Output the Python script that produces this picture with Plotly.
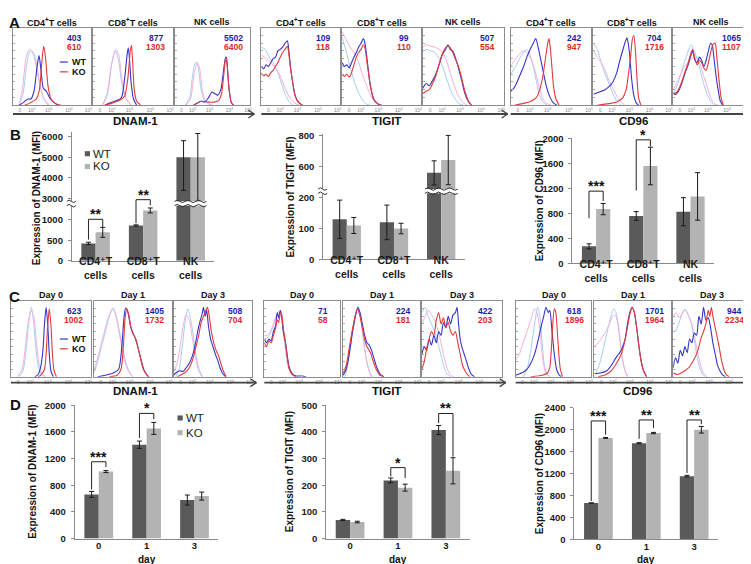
import plotly.graph_objects as go

W, H = 751, 564
FONT = "Arial, 'Liberation Sans', 'DejaVu Sans', sans-serif"

# ---------------- bar chart data ----------------
CELL_TYPES = ["CD4⁺T<br>cells", "CD8⁺T<br>cells", "NK<br>cells"]
DAYS = ["0", "1", "3"]

B_DNAM1_WT = [421, 857, 5000]
B_DNAM1_WT_ERR = [30, 15, 800]
B_DNAM1_WT_ERR_MINUS = [30, 15, 1600]
B_DNAM1_KO = [690, 1222, 5000]
B_DNAM1_KO_ERR = [120, 60, 1150]
B_DNAM1_KO_ERR_MINUS = [120, 60, 2130]

B_TIGIT_WT = [130, 120, 560]
B_TIGIT_WT_ERR = [62, 56, 78]
B_TIGIT_KO = [110, 100, 643]
B_TIGIT_KO_ERR = [26, 17, 160]

B_CD96_WT = [272, 757, 825]
B_CD96_WT_ERR = [40, 70, 225]
B_CD96_KO = [867, 1556, 1070]
B_CD96_KO_ERR = [90, 300, 380]

D_DNAM1_WT = [662, 1407, 578]
D_DNAM1_WT_ERR = [45, 55, 75]
D_DNAM1_KO = [1005, 1652, 637]
D_DNAM1_KO_ERR = [15, 90, 60]

D_TIGIT_WT = [70, 218, 407]
D_TIGIT_WT_ERR = [2, 9, 17]
D_TIGIT_KO = [62, 191, 254]
D_TIGIT_KO_ERR = [3, 13, 49]

D_CD96_WT = [663, 1755, 1152]
D_CD96_WT_ERR = [0, 10, 15]
D_CD96_KO = [1851, 1940, 2000]
D_CD96_KO_ERR = [8, 12, 60]

# significance brackets: (group, bracket level, left foot, right foot, label)
B_DNAM1_SIG = [(0, 1008, 516, 817, "**"), (1, 1484, 913, 1349, "**")]
B_CD96_SIG = [(0, 1154, 720, 997, "***"), (1, 1974, 1164, 1870, "*")]
D_DNAM1_SIG = [(0, 1152, 735, 1069, "***"), (1, 1877, 1510, 1789, "*")]
D_TIGIT_SIG = [(1, 266, 233, 227, "*"), (2, 469, 433, 307, "**")]
D_CD96_SIG = [(0, 2161, 698, 1910, "***"), (1, 2179, 1833, 2030, "**"), (2, 2179, 1206, 2101, "**")]

# ---------------- histogram data (x: % of display width, y: % of max) ----------------
HIST_TICK_TEXT = ["0", "10<sup>2</sup>", "10<sup>3</sup>", "10<sup>4</sup>", "10<sup>5</sup>"]
HIST_TICK_POS = [9, 24, 46, 72, 97]
A_TITLES = ["CD4<sup>+</sup>T cells", "CD8<sup>+</sup>T cells", "NK cells"]
C_TITLES = ["Day 0", "Day 1", "Day 3"]

A_DNAM1_ISO1 = [
    [(8,0),(13,15),(18,55),(22,70),(26,66),(30,50),(35,25),(40,8),(47,0)],
    [(12,0),(18,15),(23,50),(28,70),(32,60),(36,30),(41,10),(48,0)],
    [(14,0),(20,10),(24,40),(28,56),(31,50),(35,20),(40,5),(48,0)]]
A_DNAM1_ISO2 = [
    [(8,0),(12,20),(17,62),(21,72),(25,70),(29,60),(33,35),(38,12),(45,0)],
    [(12,0),(18,12),(24,55),(29,72),(33,62),(37,30),(42,8),(48,0)],
    [(15,0),(21,8),(26,42),(30,55),(33,48),(37,18),(42,4),(50,0)]]
A_DNAM1_WT = [
    [(8,0),(14,4),(19,8),(23,8),(27,18),(31,50),(33.5,64),(36,45),(39,22),(43,18),(47,10),(52,4),(58,0)],
    [(15,0),(22,3),(30,6),(36,10),(40,35),(43,65),(44.5,74),(46,60),(48,30),(51,8),(55,0)],
    [(25,0),(31,3),(35,5),(40,4),(45,10),(49.5,17),(53,15),(57,13),(61,20),(64,40),(67,60),(68.5,62),(70,45),(72,20),(75,3),(78,0)]]
A_DNAM1_KO = [
    [(15,0),(22,3),(30,8),(34,20),(37,55),(39.5,76),(42,60),(45,25),(49,8),(55,2),(62,0)],
    [(15,0),(25,3),(35,7),(40,12),(44,35),(47,70),(48.5,77),(50,55),(52,20),(55,5),(60,0)],
    [(25,0),(35,5),(45,4),(52,4),(58,6),(62,15),(65,40),(67.5,62),(69.5,50),(72,20),(75,3),(78,0)]]
A_DNAM1_MFI_WT = [403, 877, 5502]
A_DNAM1_MFI_KO = [610, 1303, 6400]

A_TIGIT_ISO1 = [
    [(0,75),(5,72),(10,62),(15,55),(20,45),(25,30),(30,15),(35,5),(40,0)],
    [(0,88),(5,70),(10,50),(15,32),(20,18),(25,8),(30,2),(35,0)],
    [(0,70),(5,72),(10,70),(15,68),(20,60),(25,48),(30,32),(35,18),(40,8),(45,2),(50,0)]]
A_TIGIT_ISO2 = [
    [(0,65),(6,60),(12,55),(18,48),(24,38),(30,22),(36,10),(42,3),(48,0)],
    [(0,95),(5,85),(10,75),(15,68),(20,58),(25,42),(30,28),(35,15),(40,6),(45,1),(50,0)],
    [(0,75),(5,78),(10,76),(15,75),(20,72),(25,68),(30,55),(35,38),(40,22),(45,10),(50,3),(55,0)]]
A_TIGIT_WT = [
    [(0,50),(3,47),(6,52),(9,50),(12,55),(15,60),(18,62),(21,70),(24,72),(27,75),(30,80),(33,83),(35,70),(37,50),(40,28),(43,12),(47,4),(52,0)],
    [(0,55),(3,50),(6,52),(9,48),(12,55),(15,62),(18,68),(21,75),(24,80),(27,86),(29,80),(31,65),(33,48),(36,25),(40,8),(45,2),(50,0)],
    [(0,22),(4,28),(8,25),(12,32),(16,40),(20,52),(24,65),(28,72),(31,78),(34,72),(37,70),(40,62),(44,48),(48,32),(52,15),(56,5),(60,0)]]
A_TIGIT_KO = [
    [(0,42),(3,38),(6,40),(9,37),(12,42),(15,45),(18,50),(21,55),(24,62),(27,68),(30,72),(33,76),(35,65),(37,48),(40,28),(43,12),(47,4),(52,0)],
    [(0,40),(3,37),(6,40),(9,36),(12,42),(15,52),(18,62),(21,68),(24,72),(27,78),(29,74),(31,60),(33,45),(36,24),(40,8),(45,2),(50,0)],
    [(0,15),(4,18),(8,20),(12,28),(16,38),(20,52),(24,66),(28,74),(31,76),(34,74),(37,68),(40,60),(44,50),(48,35),(52,18),(56,6),(60,0)]]
A_TIGIT_MFI_WT = [109, 99, 507]
A_TIGIT_MFI_KO = [118, 110, 554]

A_CD96_ISO1 = [
    [(0,40),(6,50),(12,62),(17,70),(20,72),(24,65),(28,50),(32,30),(36,12),(40,4),(45,0)],
    [(0,80),(5,72),(10,55),(15,40),(20,28),(25,15),(30,6),(35,0)],
    [(0,15),(5,25),(10,40),(15,55),(20,70),(24,78),(28,70),(32,60),(36,45),(40,30),(45,15),(50,5),(55,0)]]
A_CD96_ISO2 = [
    [(0,50),(5,58),(10,65),(15,70),(20,68),(25,60),(30,45),(35,25),(40,8),(45,2),(50,0)],
    [(0,70),(5,62),(10,55),(15,45),(20,32),(25,22),(30,12),(35,5),(40,0)],
    [(0,20),(5,30),(10,40),(15,50),(20,55),(25,60),(30,62),(35,55),(40,40),(45,25),(50,10),(55,2),(60,0)]]
A_CD96_WT = [
    [(0,18),(4,22),(8,30),(12,40),(16,50),(20,62),(24,72),(28,80),(31,86),(34,75),(37,60),(40,45),(44,25),(48,12),(52,4),(57,0)],
    [(0,14),(5,16),(10,18),(15,20),(20,24),(25,30),(30,42),(34,58),(38,72),(41,82),(43,87),(45,78),(47,60),(49,35),(52,12),(55,3),(58,0)],
    [(0,15),(4,14),(8,20),(12,30),(16,42),(20,52),(23,62),(26,70),(29,58),(32,55),(35,62),(38,58),(41,50),(44,58),(47,70),(50,80),(52,78),(54,65),(57,40),(60,20),(63,5),(66,0)]]
A_CD96_KO = [
    [(5,0),(15,2),(25,5),(32,10),(36,20),(40,38),(43,60),(46,80),(47.5,86),(49,75),(51,50),(53,25),(56,8),(60,0)],
    [(5,0),(20,2),(30,4),(38,10),(42,20),(45,40),(48,65),(50,85),(52,90),(54,70),(56,35),(58,10),(61,0)],
    [(0,15),(4,16),(8,22),(12,32),(16,44),(20,55),(23,65),(26,72),(29,60),(32,52),(35,58),(38,55),(41,48),(44,45),(47,55),(50,68),(53,78),(56,80),(58,65),(61,35),(64,10),(67,0)]]
A_CD96_MFI_WT = [242, 704, 1065]
A_CD96_MFI_KO = [947, 1716, 1107]

C_DNAM1_ISO1 = [
    [(10,0),(15,8),(19,35),(22,70),(25.5,92),(28,75),(31,40),(34,15),(38,3),(42,0)],
    [(0,5),(5,20),(10,40),(15,60),(20,80),(25,91),(29,80),(33,60),(37,40),(41,20),(45,8),(50,0)],
    [(3,0),(7,10),(11,40),(15,75),(18,90),(21,80),(25,55),(29,25),(33,8),(37,0)]]
C_DNAM1_ISO2 = [
    [(8,0),(14,10),(18,40),(22,75),(25,88),(28.5,80),(32,45),(35,18),(39,4),(44,0)],
    [(0,8),(5,25),(10,45),(15,65),(20,82),(24,90),(28,82),(32,62),(36,40),(40,20),(44,8),(50,0)],
    [(0,5),(5,20),(9,45),(13,72),(16,82),(20,75),(24,50),(28,25),(32,8),(36,0)]]
C_DNAM1_WT = [
    [(30,0),(34,3),(37,12),(40,35),(42,70),(44,92),(46,70),(48,30),(50,8),(53,0)],
    [(5,0),(15,2),(25,5),(32,10),(36,40),(39,80),(41,91),(44,85),(47,68),(50,58),(53,52),(56,42),(59,30),(62,18),(65,8),(70,0)],
    [(0,2),(4,6),(8,8),(12,7),(16,12),(20,18),(24,28),(28,45),(31,62),(34,75),(36,82),(38,92),(40,80),(42,88),(44,70),(47,50),(50,40),(53,30),(56,22),(59,12),(62,5),(66,0)]]
C_DNAM1_KO = [
    [(34,0),(38,3),(42,10),(44,30),(46,68),(48,90),(50,70),(52,30),(54,8),(57,0)],
    [(20,0),(30,2),(35,10),(38,40),(40.5,80),(42.5,90),(45,82),(48,65),(51,56),(54,50),(57,38),(60,25),(63,12),(67,4),(71,0)],
    [(5,0),(10,3),(15,6),(20,12),(24,22),(28,38),(32,55),(35,72),(38,80),(40,85),(43,92),(45,82),(48,60),(51,45),(54,35),(57,28),(60,18),(63,8),(67,0)]]
C_DNAM1_MFI_WT = [623, 1405, 508]
C_DNAM1_MFI_KO = [1002, 1732, 704]

C_TIGIT_ISO1 = [
    [(0,50),(4,52),(8,58),(12,68),(16,82),(19,86),(22,80),(25,60),(28,35),(31,15),(35,5),(40,0)],
    [(2,0),(5,10),(9,35),(13,62),(17,85),(20,92),(23,80),(26,55),(30,25),(34,8),(38,0)],
    [(0,85),(4,92),(8,80),(12,70),(16,60),(20,45),(24,28),(28,12),(32,3),(36,0)]]
C_TIGIT_ISO2 = [
    [(0,55),(4,55),(8,60),(12,70),(16,80),(19,85),(22,80),(25,62),(28,38),(31,18),(35,5),(40,0)],
    [(0,2),(4,12),(8,35),(12,60),(16,82),(19,90),(22,82),(25,60),(29,30),(33,10),(37,0)],
    [(0,70),(4,80),(8,88),(12,82),(16,75),(20,62),(24,45),(28,25),(32,10),(36,2),(40,0)]]
C_TIGIT_WT = [
    [(0,50),(3,45),(6,50),(9,48),(12,60),(15,68),(17,85),(19,78),(21,88),(23,80),(25,60),(28,45),(30,30),(33,12),(37,4),(42,1),(50,1),(55,0)],
    [(0,2),(4,10),(8,30),(12,58),(16,80),(19,92),(22,85),(25,70),(28,55),(31,45),(34,42),(37,35),(40,25),(44,12),(48,4),(53,0)],
    [(0,30),(3,40),(6,35),(9,50),(12,42),(15,55),(18,45),(21,60),(24,55),(27,72),(30,65),(33,80),(36,70),(39,82),(42,85),(44,92),(46,70),(48,50),(50,40),(53,30),(56,20),(59,10),(62,3),(66,0)]]
C_TIGIT_KO = [
    [(0,45),(3,40),(6,48),(9,45),(12,55),(15,65),(17,75),(19,72),(21,85),(23,82),(25,65),(28,45),(30,28),(33,10),(37,3),(42,0)],
    [(0,5),(4,15),(8,38),(12,62),(16,82),(19,90),(22,80),(25,65),(28,50),(31,40),(34,35),(37,28),(40,18),(44,8),(48,2),(53,0)],
    [(0,10),(3,20),(6,38),(9,50),(12,60),(15,55),(18,75),(21,85),(24,70),(27,78),(30,65),(33,72),(36,60),(39,55),(42,60),(45,45),(48,30),(51,15),(54,8),(57,3),(60,0)]]
C_TIGIT_MFI_WT = [71, 224, 422]
C_TIGIT_MFI_KO = [58, 181, 203]

C_CD96_ISO1 = [
    [(10,0),(15,10),(20,35),(25,70),(29,92),(32,80),(35,45),(38,15),(42,3),(46,0)],
    [(2,5),(6,15),(10,30),(14,48),(18,65),(22,82),(25,90),(28,85),(31,70),(34,45),(37,22),(40,8),(44,0)],
    [(3,60),(7,70),(11,82),(15,90),(18,85),(22,75),(26,55),(30,30),(34,12),(38,3),(42,0)]]
C_CD96_ISO2 = [
    [(0,22),(5,30),(10,45),(15,60),(20,75),(25,90),(28,85),(31,70),(34,40),(37,15),(40,5),(44,0)],
    [(0,40),(5,45),(10,52),(15,60),(20,72),(24,80),(27,82),(30,72),(33,50),(36,25),(39,10),(43,0)],
    [(0,80),(4,85),(8,78),(12,85),(16,88),(20,80),(24,70),(28,50),(32,30),(36,12),(40,3),(44,0)]]
C_CD96_WT = [
    [(0,2),(5,4),(10,6),(15,10),(20,18),(25,30),(30,50),(34,68),(37,80),(40,92),(43,85),(45,88),(48,60),(51,30),(54,10),(57,3),(60,0)],
    [(0,4),(8,5),(16,8),(22,15),(26,22),(30,28),(33,32),(36,38),(40,50),(43,70),(46,85),(49,92),(52,85),(55,65),(58,40),(61,20),(64,8),(68,0)],
    [(0,12),(3,25),(6,18),(9,35),(12,28),(15,40),(18,32),(21,50),(24,45),(27,58),(30,55),(33,80),(36,70),(39,92),(42,75),(45,78),(48,65),(51,45),(54,30),(57,15),(60,8),(63,3),(67,0)]]
C_CD96_KO = [
    [(20,0),(35,2),(42,5),(45,12),(47,35),(49,70),(51,90),(53,85),(55,60),(57,30),(59,10),(62,0)],
    [(5,0),(15,3),(22,8),(27,15),(31,22),(35,30),(39,45),(43,65),(46,82),(49,92),(52,85),(55,65),(58,40),(61,20),(64,8),(68,0)],
    [(0,5),(5,3),(10,5),(15,8),(20,12),(25,20),(30,30),(33,40),(36,52),(39,60),(42,70),(45,88),(47,80),(49,92),(51,80),(53,70),(56,55),(59,40),(62,22),(65,10),(68,3),(72,0)]]
C_CD96_MFI_WT = [618, 1701, 944]
C_CD96_MFI_KO = [1896, 1964, 2234]

# ---------------- styling ----------------
WT_BAR = "#5a5a5a"
KO_BAR = "#b3b3b3"
WT_LINE = "#3535c8"
KO_LINE = "#e53a3a"
ISO_BLUE = "#a6cdf0"
ISO_PINK = "#f2b0d6"
MFI_BLUE = "#1c1ca8"
MFI_RED = "#e02828"
BOX = "#8c8c8c"
AXC = "#8a8a8a"

fig = go.Figure()
AX = {}
ANN = []
SHP = []
_n = [0]


def X(px):
    return px / W


def Y(py):
    return 1 - py / H


def make_xy(x0, x1, ytop, ybot, xcfg, ycfg):
    _n[0] += 1
    s = "" if _n[0] == 1 else str(_n[0])
    AX["xaxis" + s] = dict(domain=[X(x0), X(x1)], anchor="y" + s, **xcfg)
    AX["yaxis" + s] = dict(domain=[Y(ybot), Y(ytop)], anchor="x" + s, **ycfg)
    return "x" + s, "y" + s


def make_y(xname, ytop, ybot, ycfg):
    _n[0] += 1
    s = str(_n[0])
    AX["yaxis" + s] = dict(domain=[Y(ybot), Y(ytop)], anchor=xname, **ycfg)
    return "y" + s


def ann(x, y, text, size, color="#111", bold=True, xanchor="center", yanchor="middle", angle=0):
    ANN.append(dict(x=X(x), y=Y(y), xref="paper", yref="paper", text=text, showarrow=False,
                    xanchor=xanchor, yanchor=yanchor, textangle=angle,
                    font=dict(family=FONT, size=size, color=color, weight="bold" if bold else "normal")))


def pline(x0, y0, x1, y1, color="#333", width=1):
    SHP.append(dict(type="line", xref="paper", yref="paper", x0=X(x0), y0=Y(y0), x1=X(x1), y1=Y(y1),
                    line=dict(color=color, width=width)))


def prect(x0, y0, x1, y1, color):
    SHP.append(dict(type="rect", xref="paper", yref="paper", x0=X(x0), y0=Y(y0), x1=X(x1), y1=Y(y1),
                    line=dict(width=0), fillcolor=color))


def wave(x0, x1, y, amp=1.3, n=6, color="#333", width=1):
    d = (x1 - x0) / n
    p = f"M {X(x0)},{Y(y)} Q {X(x0 + d / 2)},{Y(y - 2 * amp)} {X(x0 + d)},{Y(y)}"
    for k in range(2, n + 1):
        p += f" T {X(x0 + k * d)},{Y(y)}"
    SHP.append(dict(type="path", xref="paper", yref="paper", path=p, line=dict(color=color, width=width)))


def break_mark(x0, x1, y, n):
    prect(x0, y - 2.2, x1, y + 2.2, "white")
    wave(x0, x1, y - 2.2, n=n)
    wave(x0, x1, y + 2.2, n=n)


# ---------------- histograms ----------------
def hist_panel(x0, x1, ytop, ybot, curves, mfi_wt, mfi_ko, title):
    xa, ya = make_xy(
        x0, x1, ytop, ybot,
        dict(range=[0, 100], showline=True, mirror=True, linecolor=BOX, linewidth=1, showgrid=False,
             zeroline=False, tickvals=HIST_TICK_POS, ticktext=HIST_TICK_TEXT, ticks="",
             tickfont=dict(family=FONT, size=5, color="#888"), fixedrange=True),
        dict(range=[0, 100], showline=True, mirror=True, linecolor=BOX, linewidth=1, showgrid=False,
             zeroline=False, showticklabels=False, ticks="inside", ticklen=2, tickcolor="#aaa",
             tickvals=[10, 20, 30, 40, 50, 60, 70, 80, 90], fixedrange=True))
    for pts, col, w in zip(curves, [ISO_BLUE, ISO_PINK, WT_LINE, KO_LINE], [1, 1, 1.1, 1.1]):
        fig.add_trace(go.Scatter(x=[p[0] for p in pts], y=[p[1] for p in pts], mode="lines",
                                 line=dict(color=col, width=w, shape="spline", smoothing=0.7),
                                 xaxis=xa, yaxis=ya, hoverinfo="skip", showlegend=False))
    ann((x0 + x1) / 2, ytop - 6, title, 9)
    ann(x1 - 17, ytop + 10, str(mfi_wt), 8.5, MFI_BLUE)
    ann(x1 - 17, ytop + 19.5, str(mfi_ko), 8.5, MFI_RED)


def hist_row(boxes, ytop, ybot, data_groups, titles, arrow_y, label_y, labels):
    for g, (grp_boxes, dg) in enumerate(zip(boxes, data_groups)):
        iso1, iso2, wt, ko, mwt, mko = dg
        for i, (bx0, bx1) in enumerate(grp_boxes):
            hist_panel(bx0, bx1, ytop, ybot, [iso1[i], iso2[i], wt[i], ko[i]], mwt[i], mko[i], titles[i])
        ax0 = grp_boxes[0][0]
        ax1 = grp_boxes[2][1] + 4
        pline(ax0, arrow_y, ax1, arrow_y, "#444", 1.8)
        pline(ax1 - 6, arrow_y - 4, ax1, arrow_y, "#444", 1.3)
        pline(ax1 - 6, arrow_y + 4, ax1, arrow_y, "#444", 1.3)
        ann((ax0 + ax1) / 2 + 2, label_y, labels[g], 11.5)


ROW_A_BOXES = [[(5, 83), (85, 165), (167, 243)], [(254, 333), (335, 414), (416, 497)],
               [(504, 585), (587, 665), (667, 742)]]
ROW_C_BOXES = [[(3, 83), (86, 164), (166, 245)], [(257, 333), (336, 413), (415, 495)],
               [(509, 585), (588, 665), (667, 745)]]
MARKERS = ["DNAM-1", "TIGIT", "CD96"]

hist_row(ROW_A_BOXES, 14, 93,
         [(A_DNAM1_ISO1, A_DNAM1_ISO2, A_DNAM1_WT, A_DNAM1_KO, A_DNAM1_MFI_WT, A_DNAM1_MFI_KO),
          (A_TIGIT_ISO1, A_TIGIT_ISO2, A_TIGIT_WT, A_TIGIT_KO, A_TIGIT_MFI_WT, A_TIGIT_MFI_KO),
          (A_CD96_ISO1, A_CD96_ISO2, A_CD96_WT, A_CD96_KO, A_CD96_MFI_WT, A_CD96_MFI_KO)],
         A_TITLES, 102, 109, MARKERS)
hist_row(ROW_C_BOXES, 293, 370,
         [(C_DNAM1_ISO1, C_DNAM1_ISO2, C_DNAM1_WT, C_DNAM1_KO, C_DNAM1_MFI_WT, C_DNAM1_MFI_KO),
          (C_TIGIT_ISO1, C_TIGIT_ISO2, C_TIGIT_WT, C_TIGIT_KO, C_TIGIT_MFI_WT, C_TIGIT_MFI_KO),
          (C_CD96_ISO1, C_CD96_ISO2, C_CD96_WT, C_CD96_KO, C_CD96_MFI_WT, C_CD96_MFI_KO)],
         C_TITLES, 376, 385, MARKERS)

# histogram legends
for ly in (49, 331.5):
    pline(52, ly, 60, ly, WT_LINE, 1.2)
    ann(62, ly, "WT", 9, xanchor="left")
    pline(52, ly + 10, 60, ly + 10, KO_LINE, 1.2)
    ann(62, ly + 10, "KO", 9, xanchor="left")


# ---------------- bar charts ----------------
def xcfg_bar(labels, size, standoff):
    return dict(range=[-0.5, 2.5], tickvals=[0, 1, 2], ticktext=labels, showline=True, linecolor=AXC,
                linewidth=1, showgrid=False, zeroline=False, ticks="", fixedrange=True,
                ticklabelstandoff=standoff,
                tickfont=dict(family=FONT, size=size, color="#1a1a1a", weight="bold"))


def ycfg_bar(rng, tv, line=True):
    return dict(range=rng, tickvals=tv, showline=line, linecolor=AXC, linewidth=1, showgrid=False,
                zeroline=False, ticks="outside", ticklen=3, tickcolor=AXC, ticklabelstandoff=3,
                tickfont=dict(family=FONT, size=9.5, color="#1a1a1a", weight="bold"), fixedrange=True)


def add_bars(xa, ya, wt, wte, ko, koe, wtm=None, kom=None):
    xs = list(range(len(wt)))
    for vals, errs, errm, col in ((wt, wte, wtm, WT_BAR), (ko, koe, kom, KO_BAR)):
        ey = dict(type="data", array=errs, visible=True, color="#1a1a1a", thickness=1, width=2.5)
        if errm is not None:
            ey.update(symmetric=False, arrayminus=errm)
        fig.add_trace(go.Bar(x=xs, y=vals, marker=dict(color=col, line=dict(width=0)), error_y=ey,
                             xaxis=xa, yaxis=ya, hoverinfo="skip", showlegend=False))


def add_sig(xa, ya, sig):
    for gi, lvl, yl, yr, stars in sig:
        xl, xr = gi - 0.15, gi + 0.15
        for a, b, c, d in ((xl, yl, xl, lvl), (xl, lvl, xr, lvl), (xr, lvl, xr, yr)):
            SHP.append(dict(type="line", xref=xa, yref=ya, x0=a, y0=b, x1=c, y1=d,
                            line=dict(color="#222", width=1)))
        ANN.append(dict(x=gi, y=lvl, xref=xa, yref=ya, text=stars, showarrow=False, yanchor="bottom",
                        yshift=-5, font=dict(family=FONT, size=14, color="#111", weight="bold")))


def simple_bar(x0, x1, ytop, ybot, xcfg, wt, wte, ko, koe, rng, tv, sig, ytitle, tx):
    xa, ya = make_xy(x0, x1, ytop, ybot, xcfg, ycfg_bar(rng, tv))
    add_bars(xa, ya, wt, wte, ko, koe)
    add_sig(xa, ya, sig)
    ann(tx, (ytop + ybot) / 2, ytitle, 10, angle=-90)
    return xa, ya


# B1 DNAM-1 (broken axis)
xa, yl = make_xy(64, 207, 193.3, 251.7, xcfg_bar(CELL_TYPES, 10.5, -9), ycfg_bar([0, 1390], [0, 500, 1000]))
yu = make_y(xa, 120.8, 193.3, ycfg_bar([2762, 6200], [3000, 4000, 5000, 6000]))
yh = make_y(xa, 120.8, 251.7, dict(range=[0, 3117], visible=False, fixedrange=True))
add_bars(xa, yl, B_DNAM1_WT, B_DNAM1_WT_ERR, B_DNAM1_KO, B_DNAM1_KO_ERR,
         B_DNAM1_WT_ERR_MINUS, B_DNAM1_KO_ERR_MINUS)
add_bars(xa, yu, B_DNAM1_WT, B_DNAM1_WT_ERR, B_DNAM1_KO, B_DNAM1_KO_ERR,
         B_DNAM1_WT_ERR_MINUS, B_DNAM1_KO_ERR_MINUS)
fig.add_trace(go.Scatter(x=[0], y=[0], mode="markers", marker=dict(opacity=0), xaxis=xa, yaxis=yh,
                         hoverinfo="skip", showlegend=False))
add_sig(xa, yh, B_DNAM1_SIG)
break_mark(167, 199, 193.3, 6)
break_mark(59, 68, 193.3, 2)
ann(28, 188, "Expression of DNAM-1 (MFI)", 10, angle=-90)

# B2 TIGIT (broken axis)
xa2, yl2 = make_xy(316, 458, 180.7, 250.3, xcfg_bar(CELL_TYPES, 10.5, -9), ycfg_bar([0, 221], [0, 100, 200]))
yu2 = make_y(xa2, 122.7, 180.7, ycfg_bar([441, 810], [600, 800]))
add_bars(xa2, yl2, B_TIGIT_WT, B_TIGIT_WT_ERR, B_TIGIT_KO, B_TIGIT_KO_ERR)
add_bars(xa2, yu2, B_TIGIT_WT, B_TIGIT_WT_ERR, B_TIGIT_KO, B_TIGIT_KO_ERR)
break_mark(418, 451, 180.7, 6)
break_mark(311, 320, 180.7, 2)
ann(283, 187, "Expression of TIGIT (MFI)", 10, angle=-90)

# B3 CD96
simple_bar(566, 708, 126.7, 254.3, xcfg_bar(CELL_TYPES, 10.5, -9), B_CD96_WT, B_CD96_WT_ERR, B_CD96_KO,
           B_CD96_KO_ERR, [0, 2000], [0, 400, 800, 1200, 1600, 2000], B_CD96_SIG,
           "Expression of CD96 (MFI)", 533)

# D panels
simple_bar(67, 211, 399, 535, xcfg_bar(DAYS, 9.5, -2), D_DNAM1_WT, D_DNAM1_WT_ERR, D_DNAM1_KO,
           D_DNAM1_KO_ERR, [0, 2000], [0, 400, 800, 1200, 1600, 2000], D_DNAM1_SIG,
           "Expression of DNAM-1 (MFI)", 25)
simple_bar(319, 463, 399, 535, xcfg_bar(DAYS, 9.5, -2), D_TIGIT_WT, D_TIGIT_WT_ERR, D_TIGIT_KO,
           D_TIGIT_KO_ERR, [0, 500], [0, 100, 200, 300, 400, 500], D_TIGIT_SIG,
           "Expression of TIGIT (MFI)", 283)
simple_bar(568, 712, 401.7, 535.7, xcfg_bar(DAYS, 9.5, -2), D_CD96_WT, D_CD96_WT_ERR, D_CD96_KO,
           D_CD96_KO_ERR, [0, 2400], [0, 400, 800, 1200, 1600, 2000, 2400], D_CD96_SIG,
           "Expression of CD96 (MFI)", 533)
for cx in (139, 391, 640):
    ann(cx, 556.5, "day", 10)

# bar legends
for (lx, ly, gap) in ((77, 142.5, 13), (170, 412, 15)):
    prect(lx, ly - 2.6, lx + 5.2, ly + 2.6, WT_BAR)
    ann(lx + 6.5, ly, "WT", 11.5, "#222", bold=False, xanchor="left")
    prect(lx, ly + gap - 2.6, lx + 5.2, ly + gap + 2.6, KO_BAR)
    ann(lx + 6.5, ly + gap, "KO", 11.5, "#222", bold=False, xanchor="left")

# panel letters
for letter, (lx, ly) in zip("ABCD", ((7, 9), (8, 123), (7, 288), (8, 398))):
    ann(lx, ly, letter, 15)

fig.update_layout(width=W, height=H, margin=dict(l=0, r=0, t=0, b=0), paper_bgcolor="white",
                  plot_bgcolor="rgba(0,0,0,0)", showlegend=False, barmode="group", bargap=0.4,
                  bargroupgap=0, annotations=ANN, shapes=SHP, **AX)
fig.write_html("out.html")
